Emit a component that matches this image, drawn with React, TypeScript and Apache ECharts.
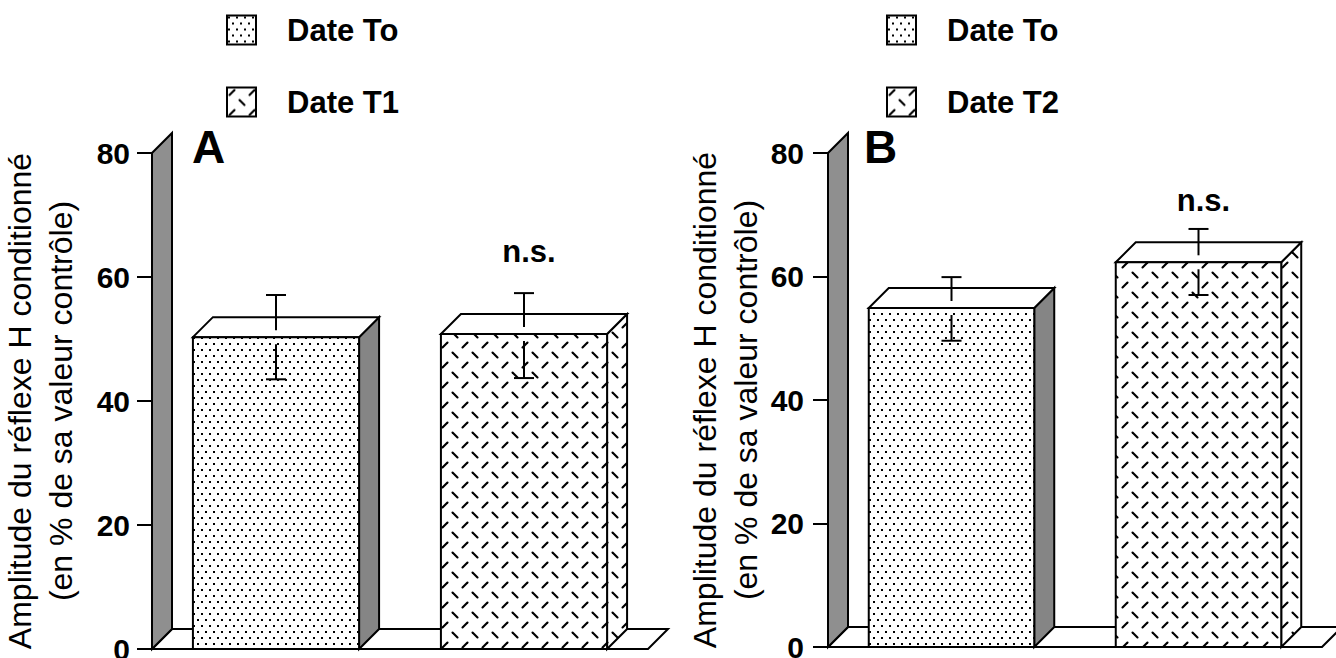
import React, { useEffect, useRef } from 'react';
import * as echarts from 'echarts';

// ---------- data ----------
const categoriesA = ['Date To', 'Date T1'];
const meansA = [50.3, 50.8];
const upperA = [57.1, 57.4];
const lowerA = [43.5, 43.7];

const categoriesB = ['Date To', 'Date T2'];
const meansB = [54.9, 62.3];
const upperB = [59.9, 67.7];
const lowerB = [49.6, 57.0];

const yTicks = [0, 20, 40, 60, 80];
const significance = ['', 'n.s.'];
const yAxisTitle = 'Amplitude du réflexe H conditionné\n(en % de sa valeur contrôle)';

// ---------- style constants ----------
const FONT = '"Liberation Sans", Arial, Helvetica, sans-serif';
const DEPTH = 20;
const BAR_FRAC = 0.67;
const WALL = '#8f8f8f';
const SIDE = '#858585';

function makeDots(): string {
  const c = document.createElement('canvas');
  c.width = 8; c.height = 12;
  const g = c.getContext('2d')!;
  g.fillStyle = '#fff'; g.fillRect(0, 0, 8, 12);
  g.fillStyle = '#000';
  g.fillRect(1, 1, 2, 2);
  g.fillRect(5, 7, 2, 2);
  return c.toDataURL();
}

function makeDashes(): string {
  const c = document.createElement('canvas');
  c.width = 20; c.height = 20;
  const g = c.getContext('2d')!;
  g.fillStyle = '#fff'; g.fillRect(0, 0, 20, 20);
  g.strokeStyle = '#000'; g.lineWidth = 2.1; g.lineCap = 'round';
  g.beginPath(); g.moveTo(2.5, 7.5); g.lineTo(7.5, 2.5); g.stroke();
  g.beginPath(); g.moveTo(12.5, 12.5); g.lineTo(17.5, 17.5); g.stroke();
  return c.toDataURL();
}

export default function App() {
  const ref = useRef<HTMLDivElement>(null);

  useEffect(() => {
    if (!ref.current) return;
    const chart = echarts.init(ref.current, undefined, { renderer: 'svg' });
    const dots = { image: makeDots(), repeat: 'repeat', imageWidth: 8, imageHeight: 12 };
    const dashes = { image: makeDashes(), repeat: 'repeat', imageWidth: 20, imageHeight: 20 };
    const yMax = yTicks[yTicks.length - 1];
    const yInterval = yTicks[1] - yTicks[0];

    const frameRender = (params: any, api: any) => {
      const cs = params.coordSys;
      const gx = cs.x, gw = cs.width;
      const y0 = api.coord([0, 0])[1];
      const yT = api.coord([0, yMax])[1];
      const d = DEPTH;
      return {
        type: 'group',
        children: [
          {
            type: 'polygon',
            shape: { points: [[gx, y0], [gx + gw, y0], [gx + gw + d, y0 - d], [gx + d, y0 - d]] },
            style: { fill: '#fff', stroke: '#000', lineWidth: 2 },
          },
          {
            type: 'polygon',
            shape: { points: [[gx, y0], [gx, yT], [gx + d, yT - d], [gx + d, y0 - d]] },
            style: { fill: WALL, stroke: '#000', lineWidth: 2 },
          },
        ],
      };
    };

    const barRender = (frontFill: any, sideFill: any, label: string, labelOffset: number) =>
      (params: any, api: any) => {
        const cat = api.value(0);
        const v = api.value(1);
        const hi = api.value(2);
        const lo = api.value(3);
        const base = api.coord([cat, 0]);
        const top = api.coord([cat, v]);
        const band = api.size([1, 0])[0];
        const bw = band * BAR_FRAC;
        const cx = base[0];
        const x0 = cx - bw / 2, x1 = cx + bw / 2;
        const y0 = base[1], y1 = top[1];
        const yHi = api.coord([cat, hi])[1];
        const yLo = api.coord([cat, lo])[1];
        const d = DEPTH;
        const ln = (a: number, b: number, c: number, e: number) => ({
          type: 'line',
          shape: { x1: a, y1: b, x2: c, y2: e },
          style: { stroke: '#000', lineWidth: 2 },
        });
        const children: any[] = [
          {
            type: 'polygon',
            shape: { points: [[x1, y0], [x1 + d, y0 - d], [x1 + d, y1 - d], [x1, y1]] },
            style: { fill: sideFill, stroke: '#000', lineWidth: 2 },
          },
          {
            type: 'polygon',
            shape: { points: [[x0, y1], [x0 + d, y1 - d], [x1 + d, y1 - d], [x1, y1]] },
            style: { fill: '#fff', stroke: '#000', lineWidth: 2 },
          },
          {
            type: 'rect',
            shape: { x: x0, y: y1, width: bw, height: y0 - y1 },
            style: { fill: frontFill, stroke: '#000', lineWidth: 2 },
          },
          ln(cx - 10, yHi, cx + 10, yHi),
          ln(cx, yHi, cx, y1 - 7),
          ln(cx, y1 + 7, cx, yLo),
          ln(cx - 10, yLo, cx + 10, yLo),
        ];
        if (label) {
          children.push({
            type: 'text',
            x: cx + 5,
            y: yHi - labelOffset,
            style: {
              text: label,
              fill: '#000',
              font: `bold 31px ${FONT}`,
              align: 'center',
              verticalAlign: 'middle',
            },
          });
        }
        return { type: 'group', children };
      };

    const yAxisBase = (gridIndex: number, margin: number, nameGap: number) => ({
      gridIndex,
      type: 'value',
      min: 0,
      max: yMax,
      interval: yInterval,
      axisLine: { show: false },
      axisTick: { show: true, length: 15, lineStyle: { color: '#000', width: 2 } },
      splitLine: { show: false },
      axisLabel: { fontSize: 30, fontWeight: 'bold', fontFamily: FONT, color: '#000', margin },
      name: yAxisTitle,
      nameLocation: 'middle',
      nameGap,
      nameTextStyle: { fontSize: 32, fontFamily: FONT, color: '#000', lineHeight: 41 },
    });

    const legendBase = (left: number, names: string[]) => ({
      left,
      top: 14,
      padding: 0,
      orient: 'vertical',
      itemWidth: 29,
      itemHeight: 29,
      itemGap: 40,
      selectedMode: false,
      data: names.map((n, i) => ({
        name: n,
        icon: 'rect',
        itemStyle: { color: i === 0 ? dots : dashes, borderColor: '#000', borderWidth: 2 },
      })),
      textStyle: {
        fontSize: 31,
        fontWeight: 'bold',
        fontFamily: FONT,
        color: '#000',
        lineHeight: 29,
        padding: [3, 0, 0, 26],
      },
    });

    const panelSeries = (
      gi: number,
      cats: string[],
      means: number[],
      ups: number[],
      lows: number[],
      labelOffset: number
    ) => [
      {
        type: 'custom',
        name: 'frame' + gi,
        xAxisIndex: gi,
        yAxisIndex: gi,
        renderItem: frameRender,
        data: [[0, 0]],
        silent: true,
      },
      ...cats.map((c, i) => ({
        type: 'custom',
        name: c,
        xAxisIndex: gi,
        yAxisIndex: gi,
        renderItem: barRender(i === 0 ? dots : dashes, i === 0 ? SIDE : dashes, significance[i], labelOffset),
        encode: { x: 0, y: 1 },
        itemStyle: { color: i === 0 ? dots : dashes, borderColor: '#000' },
        data: [[i, means[i], ups[i], lows[i]]],
      })),
    ];

    chart.setOption({
      animation: false,
      backgroundColor: '#fff',
      title: [
        { text: 'A', left: 192, top: 124, padding: 0, textStyle: { fontSize: 46, fontWeight: 'bold', fontFamily: FONT, color: '#000' } },
        { text: 'B', left: 864, top: 124, padding: 0, textStyle: { fontSize: 46, fontWeight: 'bold', fontFamily: FONT, color: '#000' } },
      ],
      legend: [legendBase(226, categoriesA), legendBase(886, categoriesB)],
      grid: [
        { left: 152, top: 153, width: 496, height: 496, outerBoundsMode: 'none' },
        { left: 828, top: 153, width: 494, height: 494, outerBoundsMode: 'none' },
      ],
      xAxis: [
        { gridIndex: 0, type: 'category', data: categoriesA, show: false },
        { gridIndex: 1, type: 'category', data: categoriesB, show: false },
      ],
      yAxis: [yAxisBase(0, 22, 71), yAxisBase(1, 24, 60)],
      series: [
        ...panelSeries(0, categoriesA, meansA, upperA, lowerA, 42),
        ...panelSeries(1, categoriesB, meansB, upperB, lowerB, 28),
      ],
    });

    return () => chart.dispose();
  }, []);

  return (
    <div
      ref={ref}
      style={{ position: 'fixed', left: 0, top: 0, width: 1336, height: 658, background: '#fff' }}
    />
  );
}
